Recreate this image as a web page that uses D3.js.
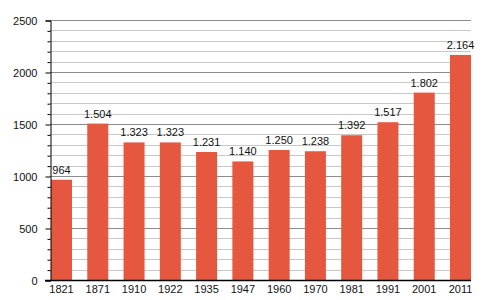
<!DOCTYPE html>
<html>
<head>
<meta charset="utf-8">
<script src="https://cdn.jsdelivr.net/npm/d3@7"></script>
<style>
  body { margin: 0; background: #fff; }
  text { font-family: "Liberation Sans", Arial, sans-serif; font-size: 11px; fill: #111; }
</style>
</head>
<body>
<svg width="500" height="300"></svg>
<script>
const years = ['1821','1871','1910','1922','1935','1947','1960','1970','1981','1991','2001','2011'];
const population = [964, 1504, 1323, 1323, 1231, 1140, 1250, 1238, 1392, 1517, 1802, 2164];
const majorTicks = [0, 500, 1000, 1500, 2000, 2500];

const svg = d3.select("svg");

const plotLeft = 50, plotRight = 471, plotTop = 20, plotBottom = 280;

const x = d3.scaleBand()
    .domain(years)
    .range([plotLeft + 1, plotRight])
    .paddingInner(0.421)
    .paddingOuter(0);

const y = d3.scaleLinear()
    .domain([0, 2500])
    .range([plotBottom, plotTop]);

// minor gridlines every 100
const minor = d3.range(100, 2500, 100).filter(v => v % 500 != 0);
svg.append("g")
    .selectAll("line")
    .data(minor)
    .enter().append("line")
    .attr("x1", plotLeft).attr("x2", plotRight)
    .attr("y1", d => Math.round(y(d)) + 0.5)
    .attr("y2", d => Math.round(y(d)) + 0.5)
    .attr("stroke", "#c8c8c8");

svg.append("g")
    .selectAll("line")
    .data(majorTicks.slice(1))
    .enter().append("line")
    .attr("x1", plotLeft).attr("x2", plotRight)
    .attr("y1", d => Math.round(y(d)) + 0.5)
    .attr("y2", d => Math.round(y(d)) + 0.5)
    .attr("stroke", "#8c8c8c");

// bars
svg.selectAll(".bar")
    .data(population)
    .enter().append("rect")
    .attr("class", "bar")
    .attr("x", (d, i) => x(years[i]))
    .attr("width", x.bandwidth())
    .attr("y", d => y(d))
    .attr("height", d => plotBottom - y(d))
    .attr("fill", "#e5573f");

// value labels, dot as thousands separator
const fmt = d3.formatLocale({ decimal: ",", thousands: ".", grouping: [3], currency: ["", ""] }).format(",d");
svg.selectAll(".label")
    .data(population)
    .enter().append("text")
    .attr("class", "label")
    .attr("x", (d, i) => x(years[i]) + x.bandwidth() / 2)
    .attr("y", d => y(d) - 6)
    .attr("text-anchor", "middle")
    .text(d => fmt(d));

// y axis: major ticks with labels, minor ticks without
const yAxis = svg.append("g")
    .attr("transform", `translate(${plotLeft + 0.5},0.5)`)
    .call(d3.axisLeft(y).tickValues(majorTicks).tickSize(5).tickPadding(8).tickFormat(d3.format("d")));
yAxis.select(".domain").attr("stroke", "#000");
yAxis.selectAll("text").style("font-family", "Liberation Sans, Arial, sans-serif").style("font-size", "11px").attr("fill", "#111");

svg.append("g")
    .attr("transform", `translate(${plotLeft + 0.5},0.5)`)
    .call(d3.axisLeft(y).tickValues(minor).tickSize(3).tickFormat(""))
    .select(".domain").remove();

// x axis
const xAxis = svg.append("g")
    .attr("transform", `translate(0,${plotBottom + 0.5})`)
    .call(d3.axisBottom(x).tickSize(0).tickPadding(5));
xAxis.select(".domain").attr("d", `M${plotLeft - 5},0H${plotRight}`).attr("stroke", "#000").attr("stroke-width", 1.5);
xAxis.selectAll("text").style("font-family", "Liberation Sans, Arial, sans-serif").style("font-size", "11px").attr("fill", "#111");
</script>
</body>
</html>
